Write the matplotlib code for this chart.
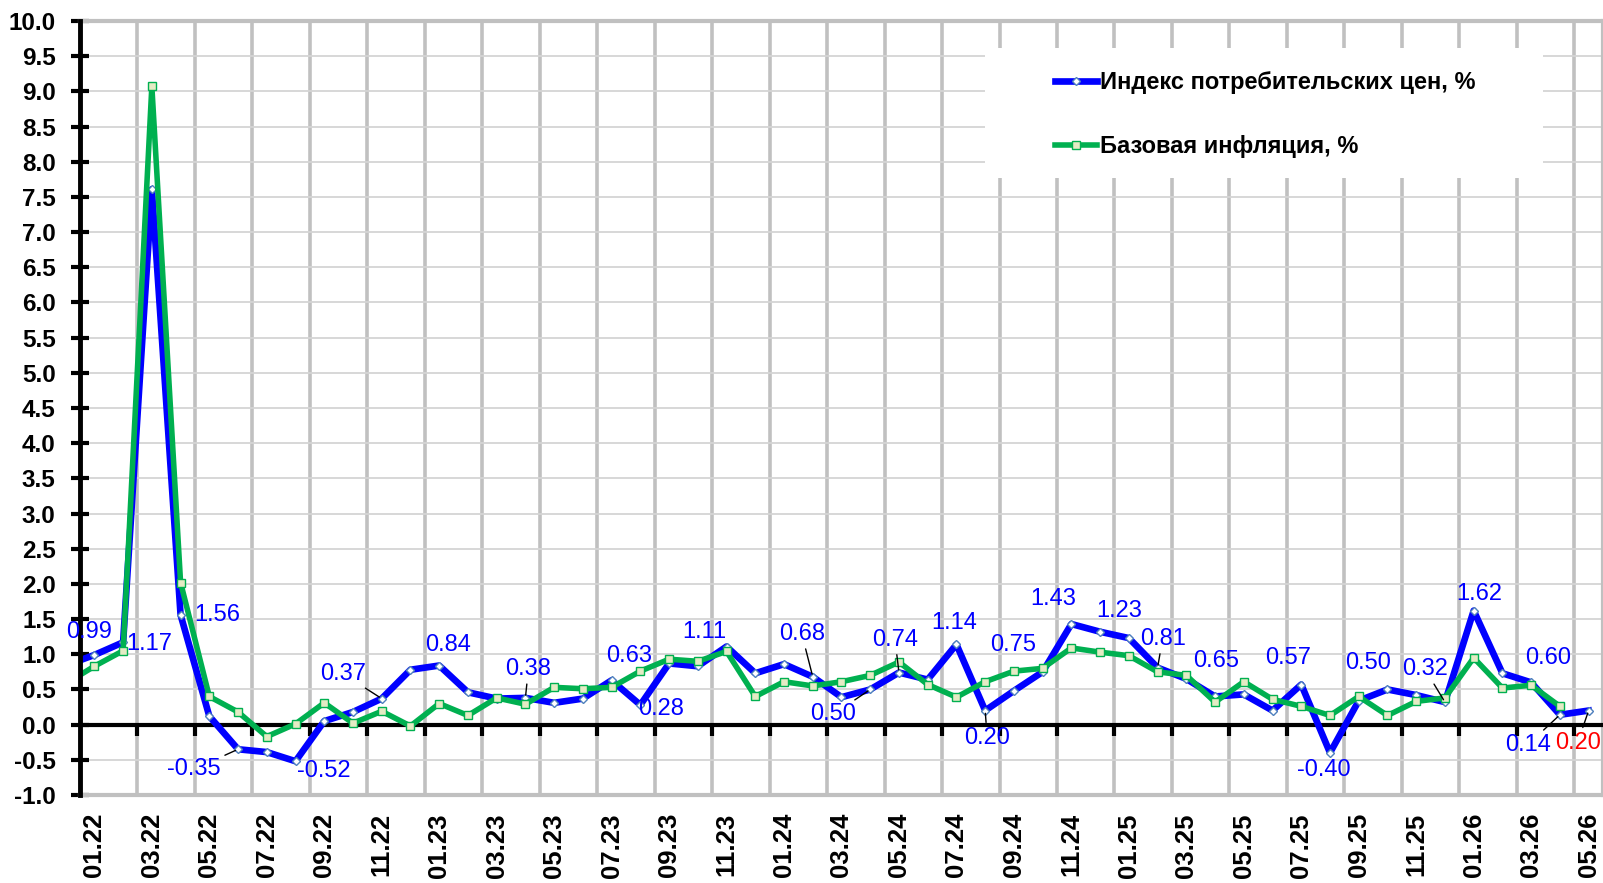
import numpy as np
import matplotlib
matplotlib.use("Agg")
import matplotlib.pyplot as plt
from matplotlib.lines import Line2D
from matplotlib.patches import Rectangle
from matplotlib import font_manager as fm

names = {f.name for f in fm.fontManager.ttflist}
HAS_NARROW = 'Liberation Sans Narrow' in names
NARROW = 'Liberation Sans Narrow' if HAS_NARROW else 'Liberation Sans'
BASE = 'Liberation Sans'

# ---------------- data ----------------
months = ['12.21',
          '01.22', '02.22', '03.22', '04.22', '05.22', '06.22', '07.22', '08.22', '09.22', '10.22', '11.22', '12.22',
          '01.23', '02.23', '03.23', '04.23', '05.23', '06.23', '07.23', '08.23', '09.23', '10.23', '11.23', '12.23',
          '01.24', '02.24', '03.24', '04.24', '05.24', '06.24', '07.24', '08.24', '09.24', '10.24', '11.24', '12.24',
          '01.25', '02.25', '03.25', '04.25', '05.25', '06.25', '07.25', '08.25', '09.25', '10.25', '11.25', '12.25',
          '01.26', '02.26', '03.26', '04.26', '05.26']

cpi = [0.84,
       0.99, 1.17, 7.61, 1.56, 0.12, -0.35, -0.39, -0.52, 0.05, 0.18, 0.37, 0.78,
       0.84, 0.46, 0.37, 0.38, 0.31, 0.37, 0.63, 0.28, 0.87, 0.83, 1.11, 0.73,
       0.86, 0.68, 0.39, 0.50, 0.74, 0.64, 1.14, 0.20, 0.48, 0.75, 1.43, 1.32,
       1.23, 0.81, 0.65, 0.40, 0.43, 0.20, 0.57, -0.40, 0.34, 0.50, 0.42, 0.32,
       1.62, 0.73, 0.60, 0.14, 0.20]

core = [0.58,
        0.83, 1.05, 9.07, 2.02, 0.40, 0.18, -0.17, 0.01, 0.31, 0.02, 0.19, -0.02,
        0.30, 0.13, 0.38, 0.29, 0.53, 0.51, 0.53, 0.76, 0.93, 0.90, 1.04, 0.40,
        0.61, 0.55, 0.61, 0.70, 0.89, 0.57, 0.39, 0.61, 0.76, 0.80, 1.09, 1.03,
        0.98, 0.75, 0.70, 0.32, 0.61, 0.36, 0.26, 0.13, 0.40, 0.13, 0.33, 0.38,
        0.95, 0.52, 0.56, 0.26, np.nan]

series_names = ['Индекс потребительских цен, %', 'Базовая инфляция, %']

# labelled CPI points: month, offset (px), leader line, colour
label_months = ['01.22', '02.22', '04.22', '06.22', '08.22', '11.22', '01.23', '04.23', '07.23', '08.23',
                '11.23', '02.24', '04.24', '05.24', '07.24', '08.24', '10.24', '11.24', '01.25', '02.25',
                '03.25', '07.25', '08.25', '10.25', '12.25', '01.26', '03.26', '04.26', '05.26']
label_offsets = [(-5, 23), (26, -2), (37, 0), (-44, -20), (28, -10), (-39, 25), (9, 21), (3, 29), (18, 24), (21, -4),
                 (-22, 15), (-11, 43), (-37, -25), (-4, 33), (-2, 21), (2, -27), (-30, 27), (-18, 25), (-10, 27), (5, 29),
                 (30, 18), (-13, 27), (-6, -17), (-19, 26), (-20, 33), (6, 17), (17, 24), (-32, -30), (-11, -32)]
label_leader = [False, False, False, True, False, True, False, True, False, False,
                False, True, True, True, False, True, False, False, False, True,
                False, False, False, False, True, False, False, True, True]
label_colors = ['#0000FF'] * 28 + ['#FF0000']

# ---------------- figure ----------------
W, H = 1603, 883
fig = plt.figure(figsize=(W / 100, H / 100), dpi=100)
ax_l, ax_r, ax_t, ax_b = 80, 1603, 21, 795
ax = fig.add_axes([ax_l / W, 1 - ax_b / H, (ax_r - ax_l) / W, (ax_b - ax_t) / H])

x = np.arange(len(months)) - 1  # 12.21 -> -1, 01.22 -> 0

ax.plot(x, cpi, color='#0000FF', lw=4.8, zorder=4, solid_joinstyle='round',
        marker='D', ms=4.5, mfc='white', mec='#4F81BD', mew=1.0)
ax.plot(x, core, color='#00B050', lw=4.0, zorder=5, solid_joinstyle='round',
        marker='s', ms=6, mfc='#E4EBC4', mec='#00B050', mew=1.0)

ax.set_xlim(-0.5, 52.5)
ax.set_ylim(-1, 10)

# y axis
yt = np.arange(-1, 10.01, 0.5)
ax.set_yticks(yt)
ax.set_yticklabels([f'{v:.1f}' for v in yt])
ax.tick_params(axis='y', direction='inout', length=13, width=3, color='black', pad=11)
for lab in ax.get_yticklabels():
    lab.set_fontfamily(BASE)
    lab.set_fontweight('bold')
    lab.set_fontsize(17.5)

# x axis labels
xt = np.arange(0, 53, 2)
ax.set_xticks(xt)
ax.set_xticklabels([months[i + 1] for i in xt], rotation=90)
ax.tick_params(axis='x', which='major', length=0, pad=13)
for lab in ax.get_xticklabels():
    lab.set_fontfamily(BASE)
    lab.set_fontweight('bold')
    lab.set_fontsize(18.5)

# grids
ax.set_xticks(np.arange(1.5, 52, 2), minor=True)
ax.tick_params(axis='x', which='minor', length=0)
ax.grid(axis='x', which='minor', color='#C0C0C0', lw=2.6, zorder=0)
ax.grid(axis='x', which='major', visible=False)
ax.grid(axis='y', which='major', color='#D4D4D4', lw=1.3, zorder=0)
ax.set_axisbelow(True)

for s in ['top', 'right', 'bottom']:
    ax.spines[s].set_color('#C0C0C0')
    ax.spines[s].set_linewidth(3)
ax.spines['left'].set_color('black')
ax.spines['left'].set_linewidth(3.5)
ax.spines['left'].set_zorder(6)

# zero line with tick marks
ax.axhline(0, color='black', lw=3, zorder=3)
tb = np.arange(1.5, 52, 2)
ax.plot(tb, np.zeros_like(tb), ls='none', marker=3, ms=8, mew=3, color='black', zorder=3)

# data labels
for m, (dx, dy), lead, col in zip(label_months, label_offsets, label_leader, label_colors):
    i = months.index(m)
    xi, yi = x[i], cpi[i]
    ap = dict(arrowstyle='-', color='black', lw=1.0, shrinkA=1, shrinkB=2) if lead else None
    ax.annotate(f'{yi:.2f}', xy=(xi, yi), xytext=(dx, dy), textcoords='offset pixels',
                ha='center', va='center', color=col, fontsize=17, family=BASE,
                arrowprops=ap, zorder=7)

# legend white box
bx0, bx1, by0, by1 = 985, 1543, 48, 178
ax.add_patch(Rectangle(((bx0 - ax_l) / (ax_r - ax_l), (ax_b - by1) / (ax_b - ax_t)),
                       (bx1 - bx0) / (ax_r - ax_l), (by1 - by0) / (ax_b - ax_t),
                       transform=ax.transAxes, facecolor='white', edgecolor='none', zorder=2))

handles = [Line2D([], [], color='#0000FF', lw=4.8, marker='D', ms=4.5, mfc='white', mec='#4F81BD', mew=1.0),
           Line2D([], [], color='#00B050', lw=4.0, marker='s', ms=6, mfc='#E4EBC4', mec='#00B050', mew=1.0)]
leg_size = 18 if HAS_NARROW else 17
leg = fig.legend(handles, series_names, loc='upper left', bbox_to_anchor=(1055 / W, 1 - 71 / H),
                 frameon=False, borderpad=0, borderaxespad=0, numpoints=1,
                 handlelength=42 / (leg_size * 1.389), handletextpad=0.12, labelspacing=1.75,
                 prop=dict(family=NARROW, weight='bold', size=leg_size))
leg.set_zorder(8)

fig.savefig('out.png', dpi=100)
